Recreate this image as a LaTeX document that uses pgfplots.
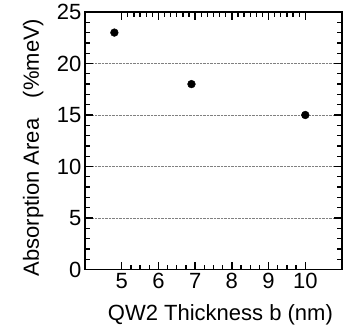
\documentclass[border=0pt]{standalone}
\usepackage{fontspec}
\setmainfont{Liberation Sans}
\usepackage{pgfplots}
\pgfplotsset{compat=1.18}
\begin{document}
\begin{tikzpicture}
\useasboundingbox (-85pt,-64.5pt) rectangle (259pt,269.5pt);
\begin{axis}[
  scale only axis, width=257pt, height=257.5pt,
  xmin=4, xmax=11, ymin=0, ymax=25,
  anchor=south west, at={(0pt,0pt)},
  axis line style={line width=1.4pt},
  major tick style={black, line width=1.3pt},
  minor tick style={black, line width=1.3pt},
  major tick length=8pt, minor tick length=5pt,
  tick label style={font=\fontsize{22}{26}\selectfont},
  xtick={5,6,7,8,9,10}, xticklabels={5,6,7,8,9,10},
  minor x tick num=3,
  xtick pos=left,
  ytick={0,5,10,15,20,25}, yticklabels={0,5,10,15,20,25},
  minor y tick num=4,
  ymajorgrids, grid style={densely dotted, gray, line width=0.8pt},
  xlabel={QW2 Thickness b (nm)},
  ylabel={Absorption Area\hspace{0.65em} (\%meV)},
  label style={font=\fontsize{22}{26}\selectfont},
  xlabel style={at={(axis description cs:0.527,-0.177)}, anchor=center},
  ylabel style={at={(axis description cs:-0.202,0.474)}, anchor=center},
]
\addplot[only marks, mark=*, mark size=3.9pt, black] coordinates {
  (4.8,23) (6.9,18) (10,15)
};
\end{axis}
\begin{axis}[
  scale only axis, width=257pt, height=257.5pt,
  xmin=4, xmax=11, ymin=0, ymax=25,
  anchor=south west, at={(0pt,0pt)},
  axis line style={line width=1.4pt},
  major tick style={black, line width=1.3pt},
  minor tick style={black, line width=1.3pt},
  major tick length=8pt, minor tick length=5pt,
  xtick={5,6,7,8,9,10}, minor x tick num=5,
  xtick pos=right, xticklabels={},
  ytick=\empty,
]
\end{axis}
\end{tikzpicture}
\end{document}
